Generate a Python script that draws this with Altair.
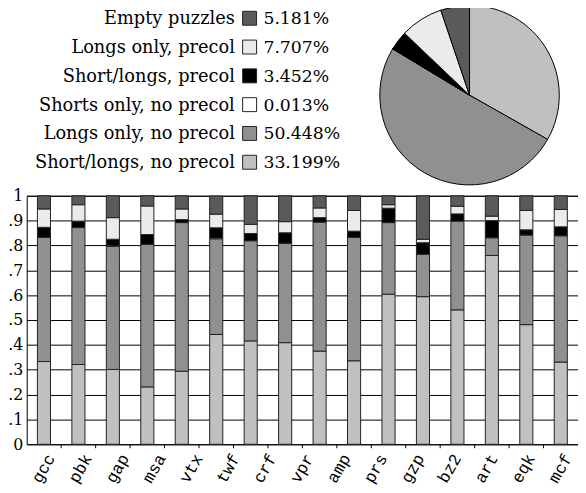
import altair as alt
import pandas as pd

# ---- data ----
cats = ["Short/longs, no precol", "Longs only, no precol", "Shorts only, no precol",
        "Short/longs, precol", "Longs only, precol", "Empty puzzles"]
colors = ["#c0c0c0", "#909090", "#ffffff", "#000000", "#ebebeb", "#5a5a5a"]
pie_pct = [33.199, 50.448, 0.013, 3.452, 7.707, 5.181]
pct_text = ["33.199%", "50.448%", "0.013%", "3.452%", "7.707%", "5.181%"]

labels = ["gcc", "pbk", "gap", "msa", "vtx", "twf", "crf", "vpr",
          "amp", "prs", "gzp", "bz2", "art", "eqk", "mcf"]

s_lg = [.333, .321, .301, .231, .294, .442, .416, .409, .375, .336, .604, .594, .541, .760, .4815, .331]
s_gray = [.4995, .551, .495, .574, .598, .385, .403, .400, .519, .4965, .288, .171, .357, .071, .3605, .508]
s_white = [0, 0, .003, 0, 0, .003, 0, 0, 0, 0, 0, 0, 0, 0, 0, 0]
s_black = [.0405, .026, .026, .039, .012, .041, .029, .042, .018, .025, .058, .046, .029, .069, .021, .036]
s_light = [.074, .066, .087, .115, .043, .055, .037, .045, .039, .0835, .014, .014, .031, .018, .078, .070]
s_dark = [.053, .036, .088, .041, .053, .073, .115, .104, .049, .059, .036, .175, .042, .082, .059, .055]
series = [s_lg, s_gray, s_white, s_black, s_light, s_dark]

n_bars = len(s_lg)
rows = []
for k, (c, s) in enumerate(zip(cats, series)):
    for i, v in enumerate(s):
        if v > 0:
            rows.append({"idx": i, "cat": c, "k": k, "v": v})
bar_df = pd.DataFrame(rows)

pie_df = pd.DataFrame({"cat": cats, "k": list(range(len(cats))), "pct": pie_pct})
leg_df = pd.DataFrame({"cat": cats, "txt": pct_text, "row": [5, 4, 3, 2, 1, 0]})

label_pos = [j * (n_bars - 1) / (len(labels) - 1) for j in range(len(labels))]
bounds = [i + 0.5 for i in range(n_bars - 1)]
label_expr = "[" + ",".join("'%s'" % l for l in labels) + "][round(datum.value*%d/%d)]" % (len(labels) - 1, n_bars - 1)

W, H = 559, 252
SERIF = "DejaVu Serif"
color = alt.Color("cat:N", scale=alt.Scale(domain=cats, range=colors), legend=None)
xscale = alt.Scale(domain=[-0.5, n_bars - 0.5], nice=False, zero=False)
xaxis = alt.Axis(values=label_pos, labelExpr=label_expr, ticks=False, grid=False,
                 domain=False, labelAngle=-60, labelAlign="right", labelBaseline="middle",
                 labelFont="Liberation Mono", labelFontSize=17, labelColor="black",
                 labelPadding=11, labelOffset=7, labelOverlap=False, labelBound=False,
                 labelFlush=False, title=None)

bars = alt.Chart(bar_df).transform_stack(
    stack="v", groupby=["idx"], as_=["y0", "y1"], sort=[alt.SortField("k", order="ascending")]
).transform_calculate(
    lo="datum.idx - 0.19", hi="datum.idx + 0.19"
).mark_rect(stroke="#222222", strokeWidth=1).encode(
    x=alt.X("lo:Q", scale=xscale, axis=xaxis),
    x2="hi:Q",
    y=alt.Y("y0:Q", scale=alt.Scale(domain=[0, 1], nice=False),
            axis=alt.Axis(values=[i / 10 for i in range(11)],
                          labelExpr="datum.value == 0 ? '0' : datum.value >= 1 ? '1' : replace(format(datum.value, '.1f'), '0.', '.')",
                          grid=True, gridColor="black", gridWidth=1, ticks=False, domain=False,
                          labelFont=SERIF, labelFontSize=16, labelColor="black",
                          labelPadding=4, title=None)),
    y2="y1:Q",
    color=color,
)

ticks = alt.Chart(pd.DataFrame({"b": bounds})).mark_rule(color="black", strokeWidth=1).encode(
    x=alt.X("b:Q", scale=xscale, axis=xaxis), y=alt.value(H), y2=alt.value(H + 4)
)

pie = alt.Chart(pie_df).mark_arc(radius=91, stroke="black", strokeWidth=1).encode(
    theta=alt.Theta("pct:Q", stack=True),
    color=color,
    order=alt.Order("k:Q", sort="ascending"),
    x=alt.value(449), y=alt.value(-102),
)

ly = alt.Y("row:O", scale=alt.Scale(range=[-174, -28], padding=0), axis=None)
leg_names = alt.Chart(leg_df).mark_text(align="right", baseline="alphabetic", font=SERIF,
                                        fontSize=18, color="black").encode(
    text="cat:N", x=alt.value(211), y=ly)
leg_sw = alt.Chart(leg_df).mark_point(shape="square", filled=True, size=200, opacity=1,
                                      stroke="#222222", strokeWidth=1).encode(
    x=alt.value(226), y=alt.Y("row:O", scale=alt.Scale(range=[-180, -34], padding=0), axis=None),
    color=color)
leg_pct = alt.Chart(leg_df).mark_text(align="left", baseline="alphabetic", font=SERIF,
                                      fontSize=17.5, color="black").encode(
    text="txt:N", x=alt.value(240), y=ly)

chart = alt.layer(bars, ticks, pie, leg_names, leg_sw, leg_pct).resolve_scale(
    y="independent"
).properties(
    width=W, height=H,
    padding={"left": 19, "top": 187, "right": 0, "bottom": 46},
    autosize=alt.AutoSizeParams(type="none"),
).configure_view(stroke="black", strokeWidth=1)

chart.save("out.html", embed_options={"renderer": "svg", "actions": False})
